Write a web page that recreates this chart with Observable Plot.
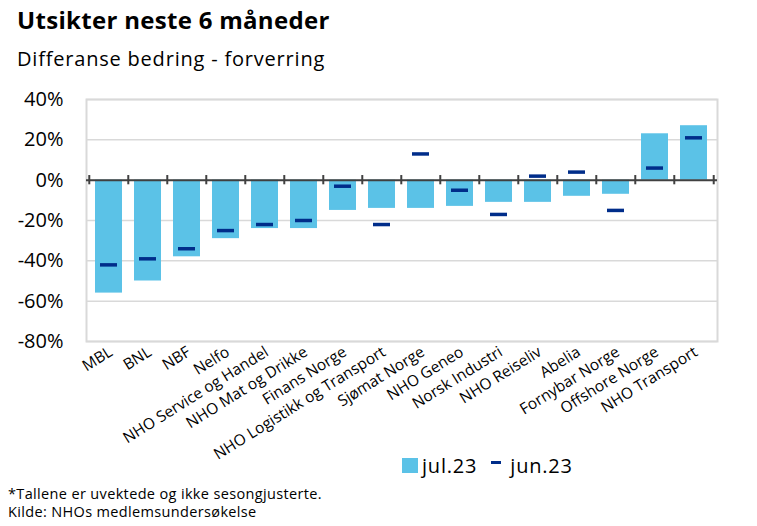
<!DOCTYPE html>
<html>
<head>
<meta charset="utf-8">
<script src="https://cdn.jsdelivr.net/npm/d3@7"></script>
<script src="https://cdn.jsdelivr.net/npm/@observablehq/plot@0.6"></script>
<style>
  html, body { margin: 0; padding: 0; background: #fff; }
  body { width: 757px; height: 526px; position: relative; overflow: hidden; font-family: "Open Sans", "Noto Sans", sans-serif; color: #000; }
  #title { position: absolute; left: 17px; top: 3px; font-size: 24px; font-weight: 700; letter-spacing: 0.3px; }
  #subtitle { position: absolute; left: 17px; top: 45px; font-size: 20px; letter-spacing: 0.8px; }
  #chart { position: absolute; left: 0; top: 80px; }
  #legend { position: absolute; left: 402px; top: 452px; font-size: 20px; letter-spacing: 0.8px; display: flex; align-items: center; }
  #legend .sw { display: inline-block; width: 16px; height: 15px; background: #5bc2e7; margin-right: 4px; }
  #legend .dash { display: inline-block; width: 10px; height: 3px; background: #002d8a; margin-left: 14px; margin-right: 9px; position: relative; top: -3px; }
  .cap { position: absolute; left: 8px; font-size: 14.5px; line-height: 17px; letter-spacing: 0.35px; white-space: nowrap; }
</style>
</head>
<body>
<div id="title">Utsikter neste 6 måneder</div>
<div id="subtitle">Differanse bedring - forverring</div>
<div id="chart"></div>
<div id="legend"><span class="sw"></span><span>jul.23</span><span class="dash"></span><span>jun.23</span></div>
<div class="cap" style="top:485px">*Tallene er uvektede og ikke sesongjusterte.</div>
<div class="cap" style="top:503px">Kilde: NHOs medlemsundersøkelse</div>
<script>
const categories = ["MBL", "BNL", "NBF", "Nelfo", "NHO Service og Handel", "NHO Mat og Drikke", "Finans Norge", "NHO Logistikk og Transport", "Sjømat Norge", "NHO Geneo", "Norsk Industri", "NHO Reiseliv", "Abelia", "Fornybar Norge", "Offshore Norge", "NHO Transport"];
const jul23 = [-56, -50, -38, -29, -24, -24, -15, -14, -14, -13, -11, -11, -8, -7, 23, 27];
const jun23 = [-42, -39, -34, -25, -22, -20, -3, -22, 13, -5, -17, 2, 4, -15, 6, 21];
const yTicks = [-80, -60, -40, -20, 0, 20, 40];

const data = categories.map((name, i) => ({name, jul: jul23[i], jun: jun23[i]}));

const width = 757, marginLeft = 86, marginRight = 40;
const step = (width - marginLeft - marginRight) / categories.length;

const plot = Plot.plot({
  width: width,
  height: 405,
  marginTop: 19,
  marginBottom: 144,
  marginLeft: marginLeft,
  marginRight: marginRight,
  style: {fontFamily: "'Open Sans', 'Noto Sans', sans-serif", color: "#000", background: "transparent"},
  x: {domain: categories, paddingInner: 0.3, paddingOuter: 0.15, label: null},
  y: {domain: [-80, 40], label: null},
  marks: [
    Plot.gridY(yTicks, {stroke: "#d9d9d9", strokeOpacity: 1, strokeWidth: 1.5}),
    Plot.frame({stroke: "#d9d9d9", strokeWidth: 2}),
    Plot.barY(data, {x: "name", y: "jul", fill: "#5bc2e7"}),
    Plot.ruleY([0], {stroke: "#404040", strokeWidth: 2}),
    Plot.ruleX(categories, {x: d => d, y1: -2.3, y2: 2.3, dx: -step / 2, stroke: "#404040", strokeWidth: 2}),
    Plot.ruleX(categories.slice(-1), {x: d => d, y1: -2.3, y2: 2.3, dx: step / 2, stroke: "#404040", strokeWidth: 2}),
    Plot.tickY(data, {x: "name", y: "jun", stroke: "#002d8a", strokeWidth: 3.5, insetLeft: 5, insetRight: 5}),
    Plot.axisY({ticks: yTicks, tickFormat: d => d + "%", tickSize: 0, tickPadding: 23, fontSize: 20}),
    Plot.axisX({tickSize: 0, tickRotate: -32, tickPadding: 9, dx: 2, fontSize: 15.5})
  ]
});
document.getElementById("chart").appendChild(plot);
</script>
</body>
</html>
